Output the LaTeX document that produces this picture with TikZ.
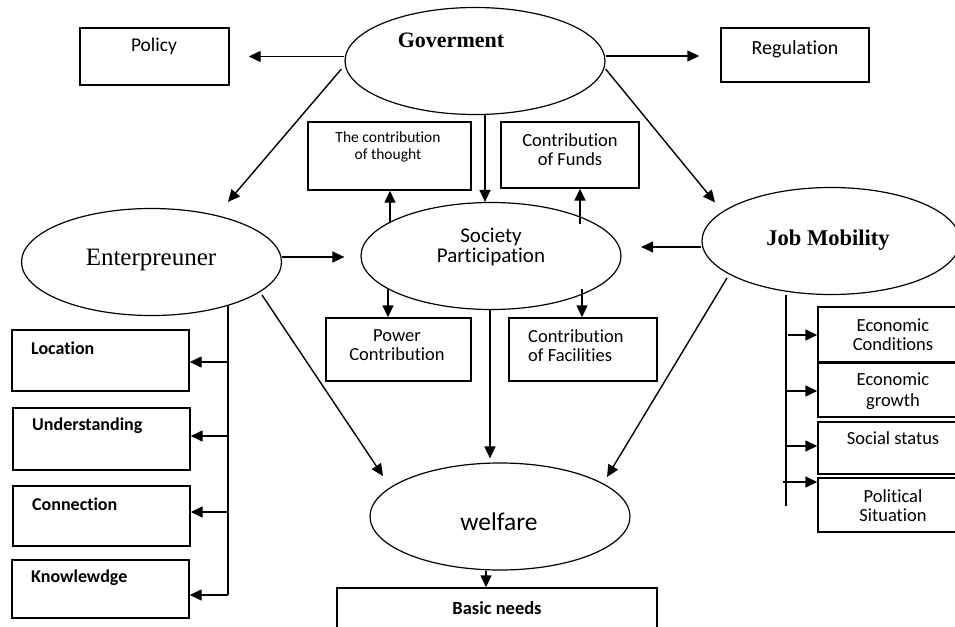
\documentclass[tikz,border=0pt]{standalone}
\usepackage{fontspec}
\setmainfont[Ligatures=NoCommon]{Carlito}
\newfontfamily\serifb{Liberation Serif}
\usetikzlibrary{arrows.meta,shapes.geometric,calc}
\tikzset{
  box/.style={draw, line width=1.4pt, inner sep=0pt, rectangle},
  oval/.style={draw, line width=1.2pt, ellipse, inner sep=0pt, minimum width=260pt, minimum height=107pt},
  arr/.style={line width=1.4pt, -{Triangle[length=12pt,width=11pt]}},
  ln/.style={line width=1.4pt},
  txt/.style={inner sep=0pt, align=center, font=\fontsize{18.5}{19}\selectfont},
  ltxt/.style={inner sep=0pt, anchor=west, font=\fontsize{18}{19}\bfseries\selectfont},
}
\begin{document}
\begin{tikzpicture}[x=1pt,y=-1pt]
\useasboundingbox (0,0) rectangle (955,626);
% ellipses
\node[oval] (gov) at (475,61) {};
\node[oval] (soc) at (491,256) {};
\node[oval] (enter) at (151.5,262) {};
\node[oval, minimum width=258pt] (job) at (831,241) {};
\node[oval] (welf) at (500,516.5) {};
% boxes
\node[box, minimum width=149pt, minimum height=57pt] (policy) at (154.5,56.5) {};
\node[box, minimum width=148pt, minimum height=54pt] (reg) at (795,55) {};
\node[box, minimum width=163pt, minimum height=68pt] (thought) at (389.5,156) {};
\node[box, minimum width=138pt, minimum height=66pt] (funds) at (570,155) {};
\node[box, minimum width=145pt, minimum height=63pt] (power) at (398.5,349.5) {};
\node[box, minimum width=148pt, minimum height=63pt] (facil) at (583,349.5) {};
\node[box, minimum width=320pt, minimum height=52pt] (basic) at (497,614) {};
\node[box, minimum width=177pt, minimum height=61pt] (loc) at (100.5,360.5) {};
\node[box, minimum width=177pt, minimum height=62pt] (und) at (101.5,439) {};
\node[box, minimum width=177pt, minimum height=60pt] (conn) at (101.5,516) {};
\node[box, minimum width=177pt, minimum height=58pt] (know) at (100.5,589) {};
\node[box, minimum width=142pt, minimum height=55pt] (econ) at (889,334.5) {};
\node[box, minimum width=142pt, minimum height=54pt] (growth) at (889,390) {};
\node[box, minimum width=142pt, minimum height=52pt] (social) at (889,448) {};
\node[box, minimum width=142pt, minimum height=54pt] (polit) at (889,505) {};
% texts
\node[inner sep=0pt, font=\serifb\fontsize{22}{24}\bfseries\selectfont] (tgov) at (451,40) {Goverment};
\node[inner sep=0pt, font=\serifb\fontsize{25}{26}\selectfont] (tent) at (151,260) {Enterpreuner};
\node[inner sep=0pt, font=\serifb\fontsize{22.5}{24}\bfseries\selectfont] (tjob) at (828,240) {Job Mobility};
\node[txt, font=\fontsize{21}{20}\selectfont] (tsoc) at (491,247) {Society\\Participation};
\node[inner sep=0pt, font=\fontsize{25.5}{26}\selectfont] (twel) at (499,522) {welfare};
\node[txt, font=\fontsize{19.5}{20}\selectfont] (tpol) at (154,46) {Policy};
\node[txt, font=\fontsize{20}{20}\selectfont] (treg) at (795,49) {Regulation};
\node[txt, font=\fontsize{15.5}{17}\selectfont] (ttho) at (388,146.5) {The contribution\\of thought};
\node[txt] (tfun) at (570,149.5) {Contribution\\of Funds};
\node[txt] (tpow) at (397,345.5) {Power\\Contribution};
\node[txt, align=left, anchor=west] (tfac) at (528,345.5) {Contribution\\of Facilities};
\node[txt, font=\fontsize{18.5}{19}\bfseries\selectfont] (tbas) at (497,608) {Basic needs};
\node[ltxt] (tloc) at (31,348) {Location};
\node[ltxt] (tund) at (32,426) {Understanding};
\node[ltxt] (tcon) at (32,504) {Connection};
\node[ltxt] (tkno) at (31,578) {Knowlewdge};
\node[txt] (tec) at (893,335) {Economic\\Conditions};
\node[txt, font=\fontsize{18.5}{21}\selectfont] (tgr) at (893,391.5) {Economic\\growth};
\node[txt] (tss) at (893,438) {Social status};
\node[txt] (tps) at (893,505.5) {Political\\Situation};
% arrows from government
\draw[arr] (gov.west |- policy.east) -- ([shift={(19,0)}]policy.east);
\draw[arr] ([shift={(0,1)}]gov.east |- reg.west) -- ([shift={(-21,1)}]reg.west);
\draw[arr] ([shift={(-3,8)}]gov.west) -- ([shift={(76.5,-6)}]enter.north);
\draw[arr] ([shift={(0,8)}]gov.east) -- ([shift={(-116,15.5)}]job.north);
\draw[arr] ([shift={(10,0)}]gov.south) -- ([shift={(-6,0)}]soc.north);
% society contributions
\draw[arr] ([shift={(0.5,32)}]thought.south) -- ([shift={(0.5,0)}]thought.south);
\draw[arr] ([shift={(10,35)}]funds.south) -- ([shift={(10,0)}]funds.south);
\draw[arr] ([shift={(-10.5,-28)}]power.north) -- ([shift={(-10.5,0)}]power.north);
\draw[arr] ([shift={(-1,-28)}]facil.north) -- ([shift={(-1,0)}]facil.north);
% into society
\draw[arr] ([shift={(0,-5)}]enter.east) -- ([shift={(-16,1)}]soc.west);
\draw[arr] ([shift={(0,6)}]job.west) -- ([shift={(19.5,-9)}]soc.east);
% into welfare
\draw[arr] ([shift={(110.5,33)}]enter.center) -- ([shift={(-117,-40.5)}]welf.center);
\draw[arr] ([shift={(-1,0)}]soc.south) -- ([shift={(-10,-4)}]welf.north);
\draw[arr] ([shift={(-104,37)}]job.center) -- ([shift={(107,-39.5)}]welf.center);
\draw[arr] ([shift={(-14,0)}]welf.south) -- ([shift={(-11,0)}]basic.north);
% enterpreuner trunk
\coordinate (etop) at ([shift={(76.5,43)}]enter.center);
\coordinate (ebot) at (etop |- 0,595);
\draw[ln] (etop) -- (ebot);
\draw[arr] (etop |- 0,362) -- ([shift={(0,1.5)}]loc.east);
\draw[arr] (etop |- 0,436) -- ([shift={(0,-3)}]und.east);
\draw[arr] (etop |- 0,512) -- ([shift={(0,-4)}]conn.east);
\draw[arr] (ebot) -- ([shift={(0,6)}]know.east);
% job mobility trunk
\coordinate (jtop) at ([shift={(-45,54)}]job.center);
\coordinate (jbot) at (jtop |- 0,506);
\draw[ln] (jtop) -- (jbot);
\draw[arr] ([shift={(2,0)}]jtop |- 0,335) -- ([shift={(0,0.5)}]econ.west);
\draw[arr] (jtop |- 0,391) -- ([shift={(0,1)}]growth.west);
\draw[arr] (jtop |- 0,446) -- ([shift={(0,-2)}]social.west);
\draw[arr] ([shift={(-3,0)}]jtop |- 0,482) -- ([shift={(0,-23)}]polit.west);
\end{tikzpicture}
\end{document}
